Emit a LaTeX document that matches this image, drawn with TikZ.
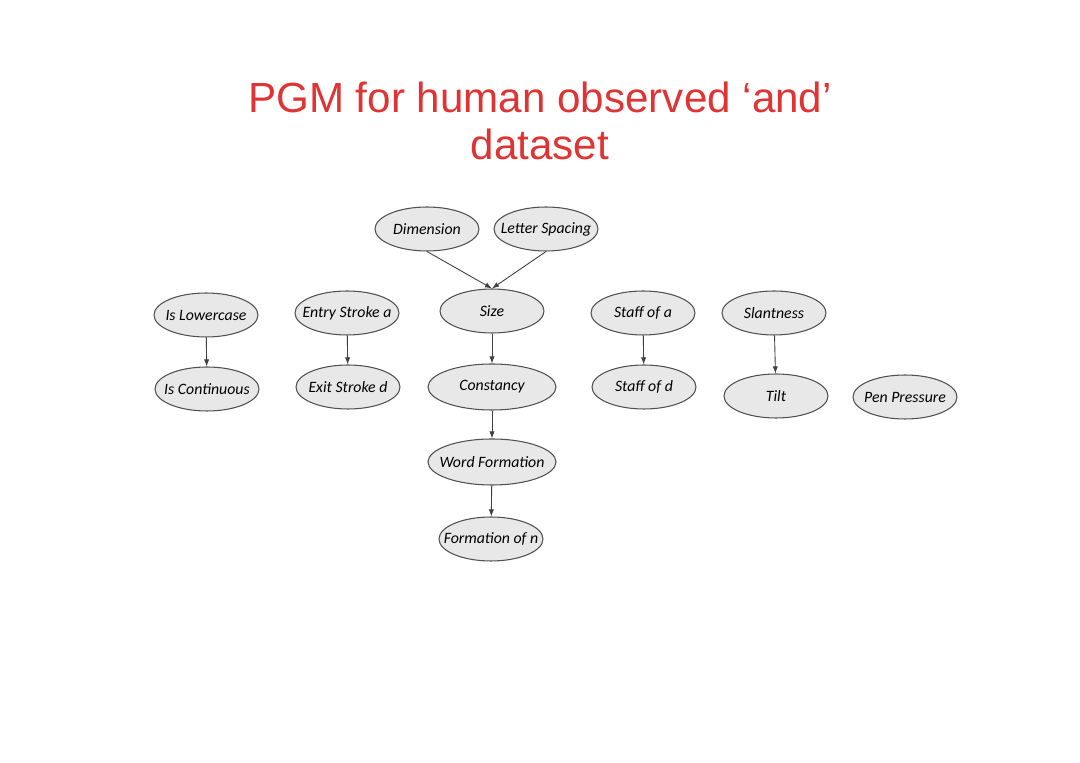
\documentclass[tikz,border=0pt]{standalone}
\usepackage{fontspec}
\setmainfont{Liberation Sans}
\newfontfamily\nodefont{Carlito}
\usetikzlibrary{shapes.geometric,arrows.meta}
\definecolor{titlered}{RGB}{222,52,52}
\definecolor{nodefill}{RGB}{232,232,232}
\definecolor{nodeline}{RGB}{80,80,80}

\begin{document}
\begin{tikzpicture}[x=0.02cm,y=-0.02cm,
		pnode/.style={ellipse,draw=nodeline,fill=nodefill,line width=0.6pt,
			minimum width=2.08cm,minimum height=0.88cm,inner sep=0pt,
			font=\nodefont\itshape\fontsize{9}{11}\selectfont,
			execute at begin node={\hbox to 0pt\bgroup\hss},
			execute at end node={\hss\egroup}},
		widenode/.style={pnode,minimum width=2.56cm,minimum height=0.92cm},
		edge/.style={-{Latex[length=4pt,width=3pt]},draw=black!75,line width=0.5pt}]
		% Cadre de la page
		\useasboundingbox (0,0) rectangle (1080,763);
		\fill[white] (0,0) rectangle (1080,763);
		
		% Titre
		\node[titlered, align=center, font=\fontsize{24}{27.2}\selectfont] (title) at (540,121)
		{PGM for human observed ‘and’\\dataset};
		
		% Noeuds
		\node[pnode] (dim)    at (427,229) {Dimension};
		\node[pnode] (letsp)  at (546,229) {Letter Spacing};
		\node[pnode] (size)   at (492,311) {Size};
		\node[pnode] (lower)  at (206,315) {Is Lowercase};
		\node[pnode] (cont)   at (207,389) {Is Continuous};
		\node[pnode] (entry)  at (347,313) {Entry Stroke a};
		\node[pnode] (exit)   at (348,387) {Exit Stroke d};
		\node[widenode] (const) at (492,387) {Constancy};
		\node[widenode] (word)  at (492,462) {Word Formation};
		\node[pnode] (formn)  at (491,539) {Formation of n};
		\node[pnode] (staffa) at (643,313) {Staff of a};
		\node[pnode] (staffd) at (644,387) {Staff of d};
		\node[pnode] (slant)  at (774,313) {Slantness};
		\node[pnode] (tilt)   at (776,396) {Tilt};
		\node[pnode] (pen)    at (905,397) {Pen Pressure};
		
		% Arcs
		\draw[edge] (dim.south) -- (size.north);
		\draw[edge] (letsp.south) -- (size.north);
		\draw[edge] (lower) -- (cont);
		\draw[edge] (entry) -- (exit);
		\draw[edge] (size) -- (const);
		\draw[edge] (const) -- (word);
		\draw[edge] (word) -- (formn);
		\draw[edge] (staffa) -- (staffd);
		\draw[edge] (slant) -- (tilt);
	\end{tikzpicture}
\end{document}
